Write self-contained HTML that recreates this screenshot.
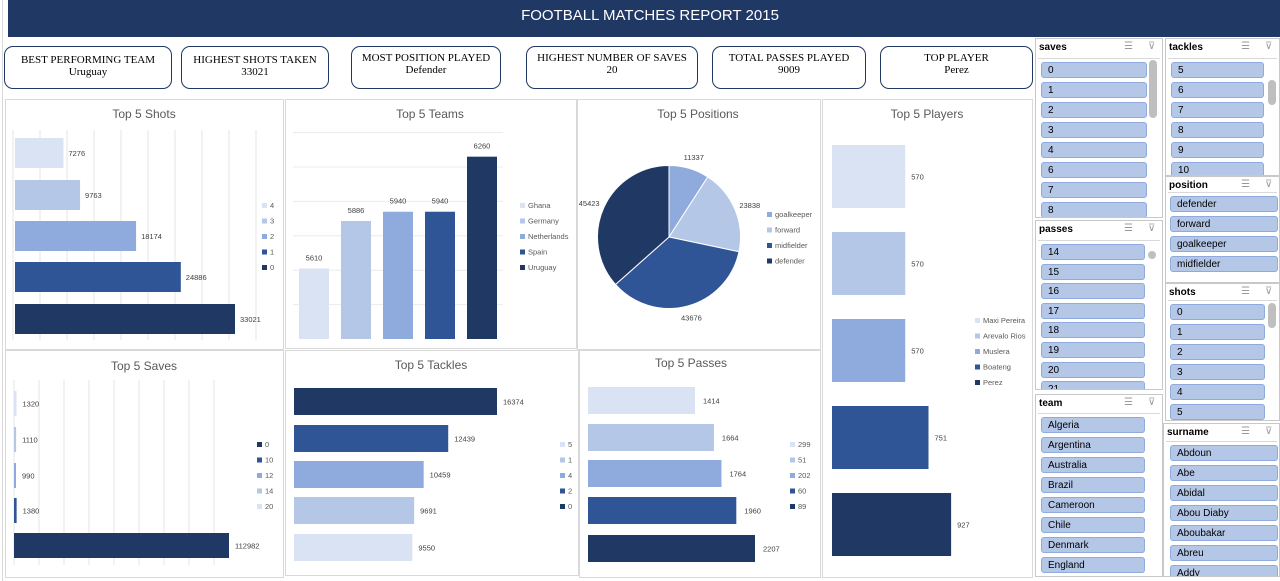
<!DOCTYPE html>
<html><head><meta charset="utf-8"><style>
body{margin:0;width:1280px;height:581px;overflow:hidden;background:#fff;font-family:"Liberation Sans",sans-serif;position:relative}
.abs{position:absolute}
.card{position:absolute;top:46px;height:43px;border:1.5px solid #203864;border-radius:9px;box-sizing:border-box;font-family:"Liberation Serif",serif;font-size:11px;color:#000;text-align:center;line-height:12px;padding-top:7px}
.panel{position:absolute;border:1px solid #d9d9d9;box-sizing:border-box;background:#fff}
.slicer{position:absolute;border:1px solid #c8c8c8;box-sizing:border-box;background:#fff;overflow:hidden}
.sh{position:absolute;left:3px;top:3px;font-size:10px;font-weight:bold;color:#000}
.sic{position:absolute;top:2px;font-size:10px;color:#999}
.btn{position:absolute;height:16px;background:#b4c7e7;border:1px solid #8faadc;border-radius:3px;box-sizing:border-box;font-size:10px;color:#000;line-height:15px;padding-left:6px}
.sb{position:absolute;width:7px;background:#bfbfbf;border-radius:4px}
</style></head><body>
<div class="abs" style="left:8px;top:0;width:1272px;height:37px;background:#203864"></div>
<div class="abs" style="left:8px;top:7px;width:1284px;text-align:center;color:#fff;font-size:15px">FOOTBALL MATCHES REPORT 2015</div>
<div class="abs" style="left:2px;top:0;width:1px;height:581px;background:#d9d9d9"></div>

<div class="card" style="left:4px;width:168px">BEST PERFORMING TEAM<br>Uruguay</div>
<div class="card" style="left:181px;width:148px">HIGHEST SHOTS TAKEN<br>33021</div>
<div class="card" style="left:351px;width:150px;padding-top:5px">MOST POSITION PLAYED<br>Defender</div>
<div class="card" style="left:526px;width:172px;padding-top:5px">HIGHEST NUMBER OF SAVES<br>20</div>
<div class="card" style="left:712px;width:154px;padding-top:5px">TOTAL PASSES  PLAYED<br>9009</div>
<div class="card" style="left:880px;width:153px;padding-top:5px">TOP PLAYER<br>Perez</div>

<div class="panel" style="left:5px;top:99px;width:279px;height:251px"></div>
<div class="panel" style="left:285px;top:99px;width:292px;height:250px"></div>
<div class="panel" style="left:577px;top:99px;width:244px;height:251px"></div>
<div class="panel" style="left:822px;top:99px;width:211px;height:479px"></div>
<div class="panel" style="left:5px;top:350px;width:279px;height:228px"></div>
<div class="panel" style="left:285px;top:350px;width:294px;height:226px"></div>
<div class="panel" style="left:579px;top:350px;width:242px;height:228px"></div>

<svg id="charts" class="abs" style="left:0;top:0" width="1280" height="581" font-family="Liberation Sans, sans-serif"></svg>
<div id="slicers"></div>

<script>
const C=['#dae3f3','#b4c7e7','#8faadc','#2f5597','#203864'];
const shotsCats=['4','3','2','1','0'];
const shotsVals=[7276,9763,18174,24886,33021];
const teamCats=['Ghana','Germany','Netherlands','Spain','Uruguay'];
const teamVals=[5610,5886,5940,5940,6260];
const posCats=['goalkeeper','forward','midfielder','defender'];
const posVals=[11337,23838,43676,45423];
const playerCats=['Maxi Pereira','Arevalo Rios','Muslera','Boateng','Perez'];
const playerVals=[570,570,570,751,927];
const savesCats=['0','10','12','14','20'];
const savesVals=[1320,1110,990,1380,112982];
const tackleCats=['5','1','4','2','0'];
const tackleVals=[16374,12439,10459,9691,9550];
const passCats=['299','51','202','60','89'];
const passVals=[1414,1664,1764,1960,2207];

const svg=document.getElementById('charts');
const NS='http://www.w3.org/2000/svg';
function mk(tag,a){const e=document.createElementNS(NS,tag);for(const k in a)e.setAttribute(k,a[k]);svg.appendChild(e);return e;}
function txt(x,y,s,size,fill,anchor){const e=mk('text',{x:x,y:y,'font-size':size,fill:fill,'text-anchor':anchor||'start'});e.textContent=s;return e;}

function title(x,y,s,n){const t=txt(x,y,s,12,'#595959','middle');

}
function legend(x,y0,cats,cols,n,step){cats.forEach((c,i)=>{const y=y0+i*(step||15.5);
const r=mk('rect',{x:x,y:y-5,width:5,height:5,fill:cols[i]});


const t=txt(x+8,y,c,7.5,'#595959');

});}
function hbars(vals,x0,k,ys,h,cols,n,labOff){vals.forEach((v,i)=>{const w=Math.max(2,v*k);
const r=mk('rect',{x:x0,y:ys[i],width:w,height:h,fill:cols[i]});


const t=txt(x0+w+(labOff||4),ys[i]+h/2+3,String(v),7.5,'#404040');

});}
function vgrid(x0,step,n,y1,y2){for(let i=0;i<n;i++){const l=mk('line',{x1:x0+i*step,x2:x0+i*step,y1:y1,y2:y2,stroke:'#e6e6e6','stroke-width':1});

}}

// Shots
title(144,118,'Top 5 Shots','shots-title');
vgrid(13,27,10,130,340);
hbars(shotsVals,15,220/33021,[138,180,221,262,304],30,C,'shots',5);
legend(262,208,shotsCats,C,'shots');

// Teams
title(430,118,'Top 5 Teams','teams-title');
const tMin=5200,tPx=0.172,tBase=339;
for(let g=5400;g<=6400;g+=200){const y=tBase-(g-tMin)*tPx;const l=mk('line',{x1:293,x2:503,y1:y,y2:y,stroke:'#ececec'});

}
teamVals.forEach((v,i)=>{const x=299+i*42;const top=tBase-(v-tMin)*tPx;
const r=mk('rect',{x:x,y:top,width:30,height:tBase-top,fill:C[i]});


const t=txt(x+15,top-8,String(v),7.5,'#404040','middle');

});
legend(520,208,teamCats,C,'teams');

// Positions pie
title(698,118,'Top 5 Positions','positions-title');
const pc=['#8faadc','#b4c7e7','#2f5597','#203864'];
const cx=669,cy=237,R=71.5;const tot=posVals.reduce((a,b)=>a+b,0);let a0=0;
posVals.forEach((v,i)=>{const a1=a0+v/tot*2*Math.PI;
const p=(a)=>[cx+R*Math.sin(a),cy-R*Math.cos(a)];const s=p(a0),e=p(a1);
const path=mk('path',{d:`M${cx},${cy}L${s[0]},${s[1]}A${R},${R} 0 ${a1-a0>Math.PI?1:0} 1 ${e[0]},${e[1]}Z`,fill:pc[i],stroke:'#fff','stroke-width':1});


const am=(a0+a1)/2;const lx=cx+(R+16)*Math.sin(am),ly=cy-(R+12)*Math.cos(am)+3;
const t=txt(lx,ly,String(v),7.5,'#404040','middle');


a0=a1;});
legend(767,217,posCats,pc,'positions');

// Players
title(927,118,'Top 5 Players','players-title');
hbars(playerVals,832,0.1285,[145,232,319,406,493],63,C,'players',6);
legend(975,323,playerCats,C,'players');

// Saves
const SC=['#203864','#2f5597','#8faadc','#b4c7e7','#dae3f3'];
title(144,370,'Top 5 Saves','saves-title');
vgrid(14,25,9,380,565);
hbars(savesVals,14,215/112982,[391,427,463,498,533],25,['#dae3f3','#b4c7e7','#8faadc','#2f5597','#203864'],'saves',6);
legend(257,447,savesCats,SC,'saves');

// Tackles
title(431,369,'Top 5 Tackles','tackles-title');
hbars(tackleVals,294,203/16374,[388,425,461,497,534],27,SC,'tackles',6);
legend(560,447,tackleCats,C,'tackles');

// Passes
title(691,367,'Top 5 Passes','passes-title');
hbars(passVals,588,167/2207,[387,424,460,497,535],27,C,'passes',8);
legend(790,447,passCats,C,'passes');

// Slicers
const host=document.getElementById('slicers');
const slicers=[
 {n:'saves',x:1035,y:38,w:128,h:180,bx:5,bw:106,by:23,p:20,items:['0','1','2','3','4','6','7','8'],sb:[1149,60,8,58]},
 {n:'tackles',x:1165,y:38,w:115,h:138,bx:5,bw:93,by:23,p:20,items:['5','6','7','8','9','10'],sb:[1268,80,8,25]},
 {n:'position',x:1165,y:176,w:115,h:107,bx:4,bw:108,by:19,p:20,items:['defender','forward','goalkeeper','midfielder']},
 {n:'passes',x:1035,y:220,w:128,h:170,bx:5,bw:104,by:23,p:19.6,items:['14','15','16','17','18','19','20','21'],sb:[1148,251,8,8]},
 {n:'shots',x:1165,y:283,w:115,h:138,bx:4,bw:95,by:20,p:20,items:['0','1','2','3','4','5'],sb:[1268,303,8,25]},
 {n:'team',x:1035,y:394,w:128,h:183,bx:5,bw:104,by:22,p:20,items:['Algeria','Argentina','Australia','Brazil','Cameroon','Chile','Denmark','England']},
 {n:'surname',x:1163,y:423,w:117,h:154,bx:6,bw:108,by:21,p:20,items:['Abdoun','Abe','Abidal','Abou Diaby','Aboubakar','Abreu','Addy']}
];
slicers.forEach(s=>{const d=document.createElement('div');d.className='slicer';


d.style.cssText=`left:${s.x}px;top:${s.y}px;width:${s.w}px;height:${s.h}px`;
const h=document.createElement('div');h.className='sh';h.textContent=s.n;


d.appendChild(h);
const i1=document.createElement('div');i1.className='sic';i1.textContent='☰';i1.style.left=(s.w-40)+'px';


d.appendChild(i1);
const i2=document.createElement('div');i2.className='sic';i2.textContent='⊽';i2.style.left=(s.w-16)+'px';


d.appendChild(i2);
const ln=document.createElement('div');ln.style.cssText=`position:absolute;left:2px;right:2px;top:${s.by-4}px;height:1px;background:#d9d9d9`;


d.appendChild(ln);
s.items.forEach((it,k)=>{const b=document.createElement('div');b.className='btn';b.textContent=it;


b.style.left=s.bx+'px';b.style.top=(s.by+k*s.p)+'px';b.style.width=s.bw+'px';d.appendChild(b);});
host.appendChild(d);
if(s.sb){const sb=document.createElement('div');sb.className='sb';


sb.style.cssText=`left:${s.sb[0]}px;top:${s.sb[1]}px;width:${s.sb[2]}px;height:${s.sb[3]}px`;host.appendChild(sb);}
});
</script>
</body></html>
